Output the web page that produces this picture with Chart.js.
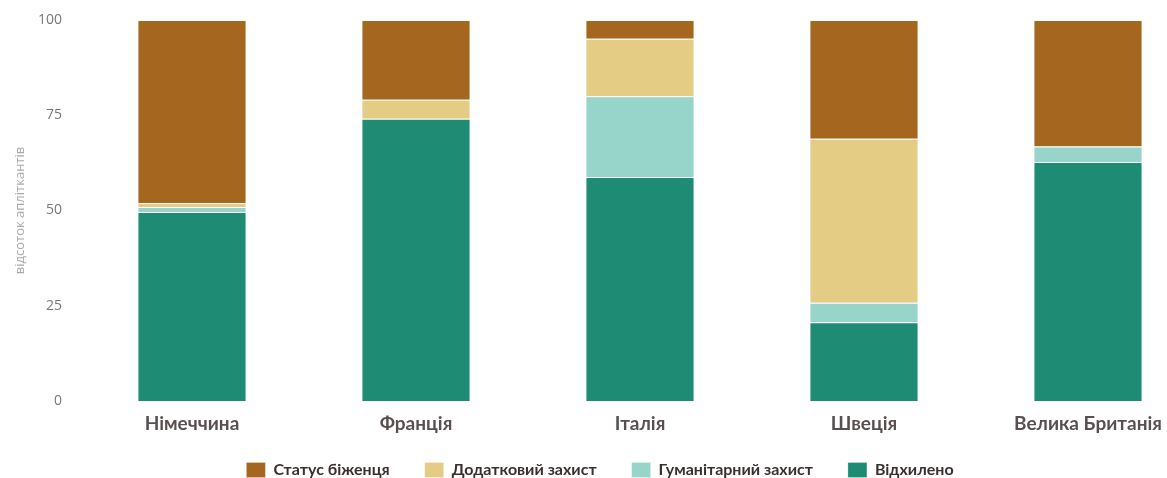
<!DOCTYPE html>
<html>
<head>
<meta charset="utf-8">
<script src="https://cdn.jsdelivr.net/npm/chart.js@4"></script>
<style>
  html, body { margin: 0; padding: 0; background: #fff; overflow: hidden; }
  #wrap { width: 1210px; height: 478px; }
</style>
</head>
<body>
<div id="wrap"><canvas id="chart"></canvas></div>
<script>
// країни
const categories = ['Німеччина', 'Франція', 'Італія', 'Швеція', 'Велика Британія'];
// частки рішень, % (знизу вгору)
const rejected   = [49.6, 74.1, 58.8, 20.7, 62.7];
const humanitar  = [1.3, 0, 21.2, 5.1, 4.1];
const subsidiary = [1.1, 5.0, 15.1, 43.0, 0];
const refugee    = [48.0, 20.9, 4.9, 31.2, 33.2];
const yTicks = [0, 25, 50, 75, 100];

function ds(label, data, color) {
    return {
        label: label,
        data: data,
        backgroundColor: color,
        borderColor: '#ffffff',
        borderWidth: { top: 1, left: 0, right: 0, bottom: 0 },
        borderSkipped: false,
        barPercentage: 0.96,
        categoryPercentage: 0.5
    };
}

// легенда: великий відступ між пунктами, але низька смуга
const legendFit = {
    id: 'legendFit',
    beforeInit(chart) {
        const lg = chart.legend;
        const fit = lg.fit;
        const draw = lg._draw;
        lg.fit = function () {
            fit.call(this);
            this.height = 41;
        };
        lg._draw = function () {
            this.ctx.save();
            this.ctx.translate(0, -10);
            draw.call(this);
            this.ctx.restore();
        };
    }
};

new Chart(document.getElementById('chart'), {
    type: 'bar',
    data: {
        labels: categories,
        datasets: [
            ds('Відхилено', rejected, '#1e8c75'),
            ds('Гуманітарний захист', humanitar, '#97d5ca'),
            ds('Додатковий захист', subsidiary, '#e4cc84'),
            ds('Статус біженця', refugee, '#a5661f')
        ]
    },
    plugins: [legendFit],
    options: {
        responsive: true,
        maintainAspectRatio: false,
        animation: false,
        layout: { padding: { top: 20, right: 10, left: 0, bottom: 0 } },
        plugins: {
            tooltip: { enabled: false },
            legend: {
                position: 'bottom',
                reverse: true,
                labels: {
                    boxWidth: 19,
                    boxHeight: 15,
                    padding: 35,
                    color: '#3a2f2f',
                    font: { family: 'Lato', size: 16, weight: 'bold' }
                }
            }
        },
        scales: {
            x: {
                stacked: true,
                afterFit: s => { s.height = 36; },
                grid: { display: false, drawTicks: false },
                border: { display: false },
                ticks: {
                    padding: 11,
                    color: '#5a4f50',
                    font: { family: 'Lato', size: 19, weight: 'bold' }
                }
            },
            y: {
                stacked: true,
                min: 0,
                max: 100,
                afterBuildTicks: s => { s.ticks = yTicks.map(v => ({ value: v })); },
                afterFit: s => { s.width = 80; s.paddingTop = 0; },
                grid: { display: false, drawTicks: false },
                border: { display: false },
                ticks: {
                    padding: 18,
                    color: '#777777',
                    font: { family: 'Open Sans', size: 14 }
                },
                title: {
                    display: true,
                    text: 'відсоток апліткантів',
                    color: '#aaaaaa',
                    padding: { top: 12, bottom: 0 },
                    font: { family: 'Open Sans', size: 13 }
                }
            }
        }
    }
});
</script>
</body>
</html>
